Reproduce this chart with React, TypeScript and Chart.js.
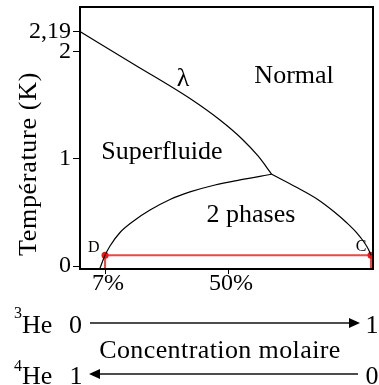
import React, { useEffect, useRef } from "react";
import { Chart, registerables } from "chart.js";

Chart.register(...registerables);

// ---- data ----
const LAMBDA_X = [-1.75, 17.48, 36.71, 47.2, 54.9, 60.5, 65.3];
const LAMBDA_T = [2.19, 1.879, 1.565, 1.364, 1.187, 1.028, 0.857];

const SEP_LEFT_X = [5.24, 7.0, 8.74, 12.24, 17.48, 22.73, 29.72, 36.71, 45.45, 54.2, 65.3];
const SEP_LEFT_T = [-0.02, 0.1, 0.187, 0.313, 0.43, 0.523, 0.622, 0.692, 0.757, 0.804, 0.857];

const SEP_RIGHT_X = [65.3, 73.78, 81.12, 87.41, 91.61, 95.1, 97.55, 99.13, 100];
const SEP_RIGHT_T = [0.857, 0.738, 0.626, 0.5, 0.402, 0.308, 0.224, 0.154, 0.1];

const RED_X = [7, 7, 100, 100];
const RED_T = [-0.028, 0.1, 0.1, -0.028];

const X_TICKS = [7, 50];
const X_TICK_LABELS = ["7%", "50%"];
const Y_TICKS = [0, 1, 2, 2.19];
const Y_TICK_LABELS = ["0", "1", "2", "2,19"];

const X_MIN = -1.75;
const X_MAX = 100.7;
const Y_MIN = -0.028;
const Y_MAX = 2.42;

// in-plot labels: text, x (%), T (K), font size
const LABEL_TEXT = ["λ", "Normal", "Superfluide", "2 phases", "D", "C"];
const LABEL_X = [34.3, 73.1, 26.9, 58.0, 3.1, 96.5];
const LABEL_T = [1.75, 1.77, 1.065, 0.477, 0.168, 0.18];
const LABEL_SIZE = [26, 26, 26, 26, 16, 16];

const Y_TITLE = "Température (K)";
const CONC_TITLE = "Concentration molaire";

const FAMILY = "Liberation Serif";
const FONT = `"${FAMILY}"`;

const pts = (xs: number[], ys: number[]) => xs.map((x, i) => ({ x, y: ys[i] }));

function arrow(ctx: CanvasRenderingContext2D, x1: number, x2: number, y: number, headAtEnd: boolean) {
  ctx.beginPath();
  ctx.lineWidth = 1.5;
  ctx.strokeStyle = "#111";
  const hl = 11;
  const hw = 5;
  if (headAtEnd) {
    ctx.moveTo(x1, y);
    ctx.lineTo(x2 - hl + 1, y);
  } else {
    ctx.moveTo(x1 + hl - 1, y);
    ctx.lineTo(x2, y);
  }
  ctx.stroke();
  ctx.beginPath();
  ctx.fillStyle = "#000";
  if (headAtEnd) {
    ctx.moveTo(x2, y);
    ctx.lineTo(x2 - hl, y - hw);
    ctx.lineTo(x2 - hl, y + hw);
  } else {
    ctx.moveTo(x1, y);
    ctx.lineTo(x1 + hl, y - hw);
    ctx.lineTo(x1 + hl, y + hw);
  }
  ctx.closePath();
  ctx.fill();
}

const decorPlugin = {
  id: "decor",
  afterDraw(chart: any) {
    const { ctx, chartArea: a, scales } = chart;
    const xs = scales.x;
    const ys = scales.y;
    ctx.save();
    ctx.strokeStyle = "#000";
    ctx.lineWidth = 2;
    ctx.strokeRect(a.left, a.top, a.right - a.left, a.bottom - a.top);

    ctx.fillStyle = "#000";
    ctx.textAlign = "center";
    ctx.textBaseline = "middle";
    LABEL_TEXT.forEach((t, i) => {
      ctx.font = `${LABEL_SIZE[i]}px ${FONT}`;
      ctx.fillText(t, xs.getPixelForValue(LABEL_X[i]), ys.getPixelForValue(LABEL_T[i]));
    });

    ctx.save();
    ctx.translate(29, 164);
    ctx.rotate(-Math.PI / 2);
    ctx.font = `26px ${FONT}`;
    (ctx as any).letterSpacing = "0.7px";
    ctx.fillText(Y_TITLE, 0, 0);
    ctx.restore();

    ctx.textBaseline = "alphabetic";
    ctx.textAlign = "left";
    ctx.font = `16px ${FONT}`;
    ctx.fillText("3", 14, 318);
    ctx.fillText("4", 14, 371);
    ctx.font = `26px ${FONT}`;
    ctx.fillText("He", 22, 333);
    ctx.fillText("He", 22, 384);
    ctx.textAlign = "center";
    ctx.fillText("0", 75.5, 333);
    ctx.fillText("1", 76, 384);
    ctx.fillText("1", 372, 333);
    ctx.fillText("0", 372, 384);
    ctx.save();
    (ctx as any).letterSpacing = "0.4px";
    ctx.fillText(CONC_TITLE, 220, 358);
    ctx.restore();
    arrow(ctx, 90, 360, 323, true);
    arrow(ctx, 89, 358, 374, false);
    ctx.restore();
  },
};

export default function App() {
  const ref = useRef<HTMLCanvasElement | null>(null);
  useEffect(() => {
    const canvas = ref.current;
    if (!canvas) return;
    const line = { borderColor: "#000", borderWidth: 1.2, pointRadius: 0, cubicInterpolationMode: "monotone" as const };
    const chart = new Chart(canvas, {
      type: "line",
      data: {
        datasets: [
          { ...line, data: pts(LAMBDA_X, LAMBDA_T) },
          { ...line, data: pts(SEP_LEFT_X, SEP_LEFT_T) },
          { ...line, data: pts(SEP_RIGHT_X, SEP_RIGHT_T) },
          {
            data: pts(RED_X, RED_T),
            borderColor: "#f04545",
            borderWidth: 2,
            tension: 0,
            pointRadius: [0, 3.5, 3.5, 0],
            pointBackgroundColor: "#ff1010",
            pointBorderColor: "#ff1010",
            pointBorderWidth: 0,
          },
        ],
      },
      options: {
        animation: false,
        responsive: false,
        devicePixelRatio: 1,
        parsing: false as any,
        layout: { padding: { top: 7, right: 6, left: 0, bottom: 0 } },
        plugins: { legend: { display: false }, tooltip: { enabled: false } },
        scales: {
          x: {
            type: "linear",
            min: X_MIN,
            max: X_MAX,
            afterBuildTicks: (s: any) => {
              s.ticks = X_TICKS.map((v) => ({ value: v }));
            },
            afterFit: (s: any) => {
              s.height = 116;
              s.paddingLeft = 0;
              s.paddingRight = 0;
            },
            ticks: {
              autoSkip: false,
              maxRotation: 0,
              padding: -5,
              labelOffset: 3,
              color: "#000",
              font: { family: FAMILY, size: 24 },
              callback: (v: any) => X_TICK_LABELS[X_TICKS.indexOf(Number(v))] ?? "",
            },
            grid: { drawOnChartArea: false, drawTicks: true, tickLength: 5, color: "#000", lineWidth: 1 },
            border: { display: false },
          },
          y: {
            type: "linear",
            min: Y_MIN,
            max: Y_MAX,
            afterBuildTicks: (s: any) => {
              s.ticks = Y_TICKS.map((v) => ({ value: v }));
            },
            afterFit: (s: any) => {
              s.width = 80;
              s.paddingTop = 0;
              s.paddingBottom = 0;
            },
            ticks: {
              autoSkip: false,
              padding: 2,
              color: "#000",
              font: { family: FAMILY, size: 24 },
              callback: (v: any) => Y_TICK_LABELS[Y_TICKS.indexOf(Number(v))] ?? "",
            },
            grid: { drawOnChartArea: false, drawTicks: true, tickLength: 7, color: "#000", lineWidth: 1 },
            border: { display: false },
          },
        },
      },
      plugins: [decorPlugin],
    });
    let alive = true;
    const fonts: any = (document as any).fonts;
    if (fonts && fonts.ready) {
      fonts.ready.then(() => {
        if (alive) chart.update();
      });
    }
    return () => {
      alive = false;
      chart.destroy();
    };
  }, []);
  return (
    <div style={{ position: "fixed", left: 0, top: 0, width: 379, height: 385, background: "#fff" }}>
      <canvas ref={ref} width={379} height={385} style={{ display: "block", width: 379, height: 385 }} />
    </div>
  );
}
